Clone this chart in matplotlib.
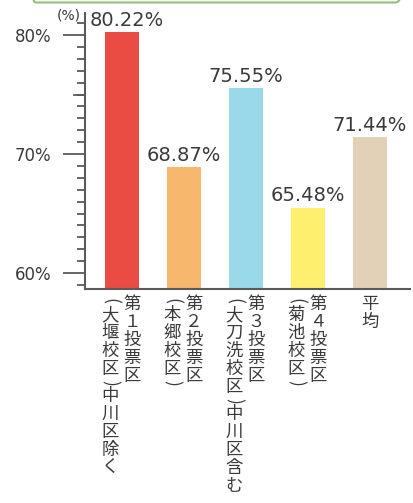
import matplotlib.pyplot as plt
from matplotlib.patches import FancyBboxPatch
from matplotlib.ticker import MultipleLocator
from matplotlib.transforms import offset_copy

plt.rcParams['font.family'] = ['Noto Sans CJK JP', 'DejaVu Sans']

values = [80.22, 68.87, 75.55, 65.48, 71.44]
value_labels = ["80.22%", "68.87%", "75.55%", "65.48%", "71.44%"]
colors = ["#EA4B42", "#F7B76C", "#9AD9EA", "#FEF06E", "#E3D1B7"]
# (right column, left column) of vertical text under each bar
names = [
    ("第１投票区", "(大堰校区)中川区除く"),
    ("第２投票区", "(本郷校区)"),
    ("第３投票区", "(大刀洗校区)中川区含む"),
    ("第４投票区", "(菊池校区)"),
    ("平均", ""),
]
yticks = [60, 70, 80]
ytick_labels = ["60%", "70%", "80%"]

W, H = 414, 503
fig = plt.figure(figsize=(W / 100, H / 100), dpi=100)
ax = fig.add_axes([85 / W, (H - 289) / H, (410 - 85) / W, (289 - 13) / H])

x = list(range(len(values)))
ax.bar(x, values, width=0.55, color=colors, zorder=2)
ax.set_xlim(-0.6, 4.645)
ax.set_ylim(58.66, 81.85)

txt = '#3a3a3a'
for xi, v, lab in zip(x, values, value_labels):
    dx = 0.07 if xi == 0 else 0
    ax.text(xi + dx, v + 0.2, lab, ha='center', va='bottom', fontsize=14,
            color=txt, family='DejaVu Sans')

gray = '#5a5a5a'
for s in ['top', 'right']:
    ax.spines[s].set_visible(False)
for s in ['left', 'bottom']:
    ax.spines[s].set_color(gray)
    ax.spines[s].set_linewidth(1.5)

ax.set_yticks(yticks)
ax.set_yticklabels(ytick_labels, fontsize=12, color=txt, family='DejaVu Sans')
ax.yaxis.set_minor_locator(MultipleLocator(1))
ax.tick_params(axis='y', which='major', length=16, width=1.3, color=gray, pad=8)
ax.tick_params(axis='y', which='minor', length=5.5, width=1.3, color=gray)
ax.axhline(75, xmin=-11 / 325, xmax=0, color=gray, lw=1.3, clip_on=False)
ax.set_xticks([])

ax.text(-1.06, 81.6, "(%)", fontsize=10, color=txt, family='DejaVu Sans',
        ha='left', va='center', clip_on=False)


def vertical(col_x, text, start_px):
    y = start_px
    for ch in text:
        step = 9 if ch in "()" else 18
        tr = offset_copy(ax.get_xaxis_transform(), fig=fig, x=0,
                         y=-(y + step / 2) * 72 / 100, units='points')
        rot = -90 if ch in "()" else 0
        ax.text(col_x, 0, ch, transform=tr, ha='center', va='center',
                fontsize=12.5, color=txt, rotation=rot, clip_on=False)
        y += step


for xi, (right, left) in zip(x, names):
    if left:
        vertical(xi + 10 / 62, right, 6)
        vertical(xi - 12 / 62, left, 8)
    else:
        vertical(xi, right, 6)

box = FancyBboxPatch((30 / W, 1 - 2.5 / H), 370 / W, 0.2,
                     boxstyle="round,pad=0,rounding_size=0.012",
                     transform=fig.transFigure, fill=False,
                     edgecolor='#8fc27a', lw=1.5)
fig.patches.append(box)

fig.savefig("out.png", dpi=100)
